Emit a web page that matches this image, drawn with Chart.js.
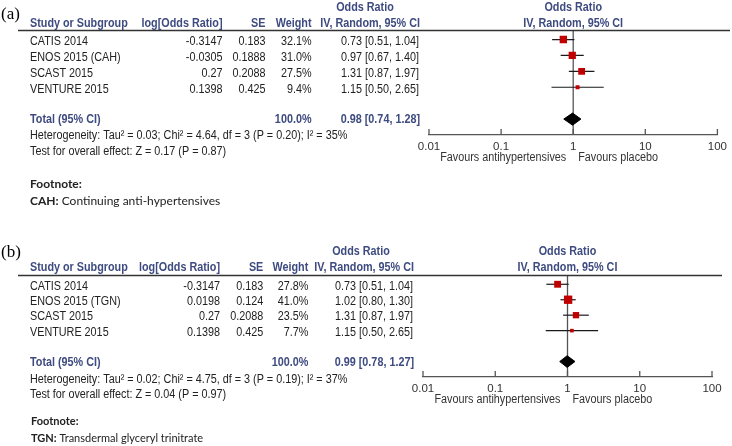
<!DOCTYPE html>
<html><head><meta charset="utf-8">
<script src="https://cdn.jsdelivr.net/npm/chart.js@4.4.0/dist/chart.umd.min.js"></script>
<style>
html,body{margin:0;padding:0;background:#fff;width:732px;height:446px;overflow:hidden}
.p{position:absolute;left:0;width:732px}
#wa{top:0;height:220px}
#wb{top:220px;height:226px}
</style></head><body>
<div class="p" id="wa"><canvas id="ca"></canvas></div>
<div class="p" id="wb"><canvas id="cb"></canvas></div>
<script>
// ---- data ----
const tickValues = [0.01, 0.1, 1, 10, 100];
const tickLabels = ['0.01', '0.1', '1', '10', '100'];

const studiesA = ['CATIS 2014', 'ENOS 2015 (CAH)', 'SCAST 2015', 'VENTURE 2015'];
const logOrA = ['-0.3147', '-0.0305', '0.27', '0.1398'];
const seA = ['0.183', '0.1888', '0.2088', '0.425'];
const weightA = [32.1, 31.0, 27.5, 9.4];
const orA = [0.73, 0.97, 1.31, 1.15];
const loA = [0.51, 0.67, 0.87, 0.50];
const hiA = [1.04, 1.40, 1.97, 2.65];
const totalA = [0.98, 0.74, 1.28];
const heteroA = 'Heterogeneity: Tau\u00b2 = 0.03; Chi\u00b2 = 4.64, df = 3 (P = 0.20); I\u00b2 = 35%';
const testA = 'Test for overall effect: Z = 0.17 (P = 0.87)';
const footA = ['CAH:', ' Continuing anti-hypertensives'];

const studiesB = ['CATIS 2014', 'ENOS 2015 (TGN)', 'SCAST 2015', 'VENTURE 2015'];
const logOrB = ['-0.3147', '0.0198', '0.27', '0.1398'];
const seB = ['0.183', '0.124', '0.2088', '0.425'];
const weightB = [27.8, 41.0, 23.5, 7.7];
const orB = [0.73, 1.02, 1.31, 1.15];
const loB = [0.51, 0.80, 0.87, 0.50];
const hiB = [1.04, 1.30, 1.97, 2.65];
const totalB = [0.99, 0.78, 1.27];
const heteroB = 'Heterogeneity: Tau\u00b2 = 0.02; Chi\u00b2 = 4.75, df = 3 (P = 0.19); I\u00b2 = 37%';
const testB = 'Test for overall effect: Z = 0.04 (P = 0.97)';
const footB = ['TGN:', ' Transdermal glyceryl trinitrate'];

// ---- styling ----
const BLUE = '#3e4b80';
const TXT = '#222';
const SANS = '"Liberation Sans", Arial, sans-serif';
const FOOT = 'Lato, "Open Sans", sans-serif';
const SX = 0.9; // horizontal condensing of table text
const Y_MIN = 0.4, Y_MAX = 7, TOTAL_ROW = 6;

function makePanel(c) {
  const n = c.studies.length;
  const datasets = [];
  datasets.push({type:'line', data:[{x:1,y:Y_MIN},{x:1,y:Y_MAX}], borderColor:'#555', borderWidth:1.3, pointRadius:0, order:5});
  c.lo.forEach((l, i) => datasets.push({type:'line', data:[{x:l,y:i+1},{x:c.hi[i],y:i+1}], borderColor:'#1a1a1a', borderWidth:1.2, pointRadius:0, order:3}));
  datasets.push({type:'scatter', data:c.or.map((v,i)=>({x:v,y:i+1})), pointStyle:'rect',
    pointRadius:c.weight.map(w=>1.3*Math.sqrt(w)/1.414), backgroundColor:'#c00000', borderWidth:0, order:1});
  const t = c.total;
  datasets.push({type:'line', data:[{x:t[1],y:TOTAL_ROW},{x:t[0],y:TOTAL_ROW-0.38},{x:t[2],y:TOTAL_ROW},{x:t[0],y:TOTAL_ROW+0.38},{x:t[1],y:TOTAL_ROW}],
    borderColor:'#000', backgroundColor:'#000', borderWidth:1, pointRadius:0, fill:'shape', tension:0, order:1});

  const textPlugin = {
    id:'tbl',
    afterDraw(chart) {
      const ctx = chart.ctx, xs = chart.scales.x, ys = chart.scales.y, a = chart.chartArea;
      const T = (s, x, y, align, font, color, sx) => {
        sx = sx || 1;
        ctx.save(); ctx.font = font; ctx.fillStyle = color; ctx.textAlign = align; ctx.textBaseline = 'middle';
        ctx.translate(x, y); ctx.scale(sx, 1); ctx.fillText(s, 0, 0); ctx.restore();
      };
      const N = '12px ' + SANS, B = 'bold 12px ' + SANS;
      ctx.save();
      // upward tick marks
      ctx.strokeStyle = '#555'; ctx.lineWidth = 1.3;
      tickValues.forEach(v => { const px = xs.getPixelForValue(v); ctx.beginPath(); ctx.moveTo(px, a.bottom); ctx.lineTo(px, a.bottom - 6); ctx.stroke(); });
      // header rule
      ctx.strokeStyle = '#333'; ctx.lineWidth = 1.4;
      ctx.beginPath(); ctx.moveTo(18, c.lineY); ctx.lineTo(c.lineX2, c.lineY); ctx.stroke();
      // panel label
      T(c.label, 1, c.labelY, 'left', '17px "Liberation Serif", serif', '#000');
      // headers
      const one = xs.getPixelForValue(1);
      T('Odds Ratio', c.orTitleX, c.titleY, 'center', B, BLUE, SX);
      T('Odds Ratio', one, c.titleY, 'center', B, BLUE, SX);
      T('Study or Subgroup', 30, c.headY, 'left', B, BLUE, SX);
      T('log[Odds Ratio]', c.colLog, c.headY, 'right', B, BLUE, SX);
      T('SE', c.colSE, c.headY, 'right', B, BLUE, SX);
      T('Weight', c.colW, c.headY, 'right', B, BLUE, SX);
      T('IV, Random, 95% CI', c.colCI + 1, c.headY, 'right', B, BLUE, SX);
      T('IV, Random, 95% CI', one, c.headY, 'center', B, BLUE, SX);
      // rows
      for (let i = 0; i < n; i++) {
        const y = ys.getPixelForValue(i + 1) + 2;
        T(c.studies[i], 30, y, 'left', N, TXT, SX);
        T(c.logOr[i], c.colLog, y, 'right', N, TXT, SX);
        T(c.se[i], c.colSE, y, 'right', N, TXT, SX);
        T(c.weight[i].toFixed(1) + '%', c.colW, y, 'right', N, TXT, SX);
        T(c.or[i].toFixed(2) + ' [' + c.lo[i].toFixed(2) + ', ' + c.hi[i].toFixed(2) + ']', c.colCI, y, 'right', N, TXT, SX);
      }
      const ty = ys.getPixelForValue(TOTAL_ROW) + 1;
      T('Total (95% CI)', 30, ty, 'left', B, BLUE, SX);
      T('100.0%', c.colW, ty, 'right', B, BLUE, SX);
      T(t[0].toFixed(2) + ' [' + t[1].toFixed(2) + ', ' + t[2].toFixed(2) + ']', c.colCI + 1, ty, 'right', B, BLUE, SX);
      T(c.hetero, 30, c.heteroY, 'left', N, TXT, SX);
      T(c.test, 30, c.testY, 'left', N, TXT, SX);
      // favours
      T('Favours antihypertensives', one - 7, a.bottom + 23, 'right', N, '#333', SX);
      T('Favours placebo', one + 5, a.bottom + 23, 'left', N, '#333', SX);
      // footnote
      const fb = 'bold ' + c.footSize + 'px ' + FOOT, fn = c.footSize + 'px ' + FOOT;
      T('Footnote:', c.footX, c.footY, 'left', fb, TXT);
      T(c.foot[0], c.footX, c.foot2Y, 'left', fb, TXT);
      ctx.font = fb; const w = ctx.measureText(c.foot[0]).width;
      T(c.foot[1], c.footX + w, c.foot2Y, 'left', fn, TXT);
      ctx.restore();
    }
  };

  return new Chart(document.getElementById(c.canvas), {
    type:'scatter',
    data:{datasets},
    options:{
      responsive:true, maintainAspectRatio:false, animation:false, devicePixelRatio:1,
      layout:{padding:c.pad},
      plugins:{legend:{display:false}, tooltip:{enabled:false}},
      scales:{
        x:{type:'logarithmic', position:'bottom', min:0.01, max:100,
          afterBuildTicks:s=>{ s.ticks = tickValues.map(v=>({value:v})); },
          afterFit:s=>{ s.height = 30; },
          ticks:{callback:(v,i)=>tickLabels[i], color:'#333', font:{family:SANS, size:11.5}, padding:5, maxRotation:0, autoSkip:false},
          grid:{display:true, drawOnChartArea:false, drawTicks:false},
          border:{display:true, color:'#555', width:1.3}},
        y:{type:'linear', reverse:true, min:Y_MIN, max:Y_MAX, display:false}
      }
    },
    plugins:[textPlugin]
  });
}

makePanel({canvas:'ca', studies:studiesA, logOr:logOrA, se:seA, weight:weightA, or:orA, lo:loA, hi:hiA, total:totalA,
  hetero:heteroA, test:testA, foot:footA,
  pad:{left:429, right:10, top:30, bottom:55}, label:'(a)', labelY:15, orTitleX:365, titleY:8, headY:24,
  colLog:222.5, colSE:265.5, colW:311.5, colCI:419, lineY:30.5, lineX2:730,
  heteroY:136, testY:152, footX:30, footY:184, foot2Y:201.5, footSize:12});

makePanel({canvas:'cb', studies:studiesB, logOr:logOrB, se:seB, weight:weightB, or:orB, lo:loB, hi:hiB, total:totalB,
  hetero:heteroB, test:testB, foot:footB,
  pad:{left:423, right:20, top:55, bottom:39}, label:'(b)', labelY:33, orTitleX:361, titleY:32, headY:48,
  colLog:220, colSE:263.3, colW:308.3, colCI:413, lineY:55.5, lineX2:722,
  heteroY:159.3, testY:175, footX:31, footY:201.7, foot2Y:218, footSize:11});
</script>
</body></html>
